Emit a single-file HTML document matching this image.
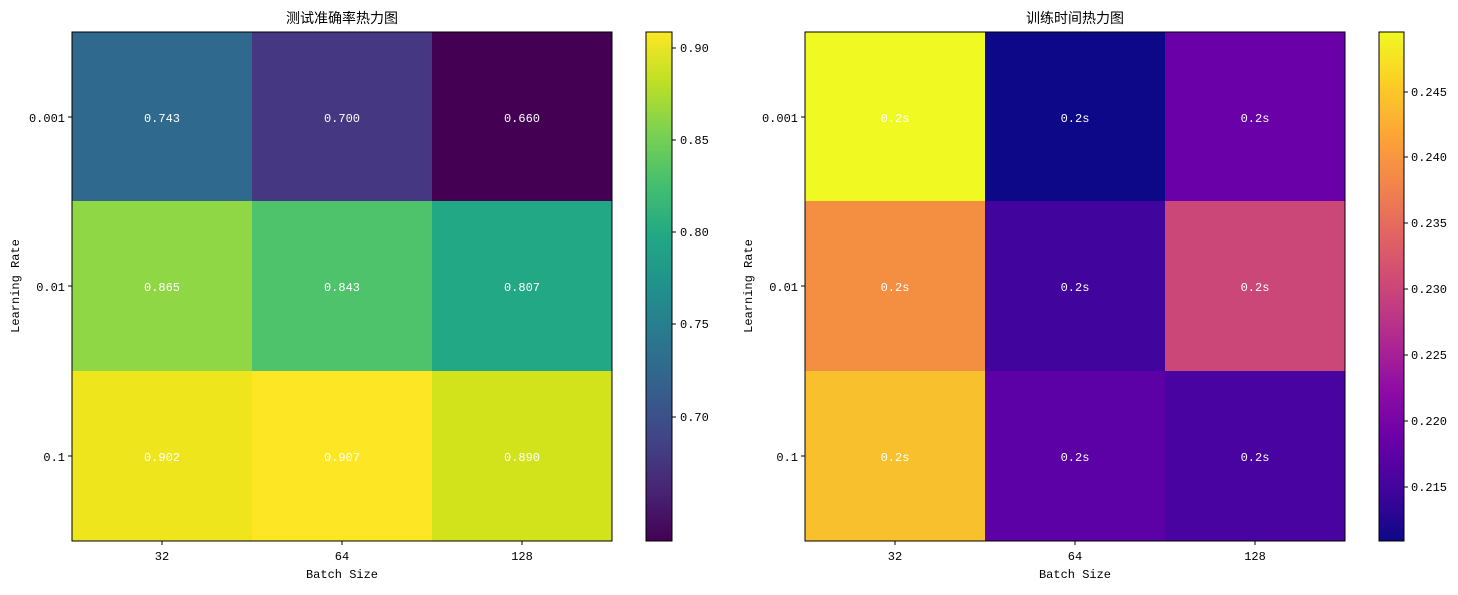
<!DOCTYPE html>
<html><head><meta charset="utf-8"><style>
body{margin:0;background:#fff;}
text{font-family:"Liberation Mono","Noto Sans CJK SC",monospace;}
.t{font-family:"Noto Sans CJK SC","WenQuanYi Zen Hei",sans-serif;}
</style></head><body>
<svg width="1458" height="590" xmlns="http://www.w3.org/2000/svg">
<defs>
<linearGradient id="vir" x1="0" y1="1" x2="0" y2="0">
<stop offset="0" stop-color="#440154"/><stop offset="0.1" stop-color="#482475"/><stop offset="0.2" stop-color="#414487"/><stop offset="0.3" stop-color="#355f8d"/><stop offset="0.4" stop-color="#2a788e"/><stop offset="0.5" stop-color="#21918c"/><stop offset="0.6" stop-color="#22a884"/><stop offset="0.7" stop-color="#44bf70"/><stop offset="0.8" stop-color="#7ad151"/><stop offset="0.9" stop-color="#bddf26"/><stop offset="1" stop-color="#fde725"/>
</linearGradient>
<linearGradient id="pla" x1="0" y1="1" x2="0" y2="0">
<stop offset="0" stop-color="#0d0887"/><stop offset="0.1" stop-color="#41049d"/><stop offset="0.2" stop-color="#6a00a8"/><stop offset="0.3" stop-color="#8f0da4"/><stop offset="0.4" stop-color="#b12a90"/><stop offset="0.5" stop-color="#cc4778"/><stop offset="0.6" stop-color="#e16462"/><stop offset="0.7" stop-color="#f2844b"/><stop offset="0.8" stop-color="#fca636"/><stop offset="0.9" stop-color="#fcce25"/><stop offset="1" stop-color="#f0f921"/>
</linearGradient>
</defs>
<!-- Left heatmap -->
<text class="t" x="342" y="23" font-size="14" text-anchor="middle">测试准确率热力图</text>
<rect x="72" y="32" width="180" height="169" fill="#30698e"/>
<rect x="252" y="32" width="180" height="169" fill="#453781"/>
<rect x="432" y="32" width="180" height="169" fill="#440154"/>
<rect x="72" y="201" width="180" height="170" fill="#8fd744"/>
<rect x="252" y="201" width="180" height="170" fill="#4ec36b"/>
<rect x="432" y="201" width="180" height="170" fill="#22a884"/>
<rect x="72" y="371" width="180" height="170" fill="#efe51c"/>
<rect x="252" y="371" width="180" height="170" fill="#fde725"/>
<rect x="432" y="371" width="180" height="170" fill="#d2e21b"/>
<rect x="72" y="32" width="540" height="509" fill="none" stroke="#000" stroke-width="1"/>
<g font-size="12" fill="#fff" text-anchor="middle">
<text x="162" y="122">0.743</text><text x="342" y="122">0.700</text><text x="522" y="122">0.660</text>
<text x="162" y="291">0.865</text><text x="342" y="291">0.843</text><text x="522" y="291">0.807</text>
<text x="162" y="461">0.902</text><text x="342" y="461">0.907</text><text x="522" y="461">0.890</text>
</g>
<g stroke="#000"><line x1="68" y1="117" x2="72" y2="117"/><line x1="68" y1="286" x2="72" y2="286"/><line x1="68" y1="456" x2="72" y2="456"/>
<line x1="162" y1="541" x2="162" y2="545"/><line x1="342" y1="541" x2="342" y2="545"/><line x1="522" y1="541" x2="522" y2="545"/></g>
<g font-size="12" text-anchor="end"><text x="65" y="122">0.001</text><text x="65" y="291">0.01</text><text x="65" y="461">0.1</text></g>
<g font-size="12" text-anchor="middle"><text x="162" y="560">32</text><text x="342" y="560">64</text><text x="522" y="560">128</text>
<text x="342" y="578">Batch Size</text>
<text transform="translate(19,286) rotate(-90)">Learning Rate</text></g>
<!-- colorbar 1 -->
<rect x="646" y="32" width="26" height="509" fill="url(#vir)" stroke="#000"/>
<g stroke="#000"><line x1="672" y1="48" x2="676" y2="48"/><line x1="672" y1="140" x2="676" y2="140"/><line x1="672" y1="232" x2="676" y2="232"/><line x1="672" y1="324" x2="676" y2="324"/><line x1="672" y1="417" x2="676" y2="417"/></g>
<g font-size="12"><text x="680" y="52">0.90</text><text x="680" y="144">0.85</text><text x="680" y="236">0.80</text><text x="680" y="328">0.75</text><text x="680" y="421">0.70</text></g>
<!-- Right heatmap -->
<text class="t" x="1075" y="23" font-size="14" text-anchor="middle">训练时间热力图</text>
<rect x="805" y="32" width="180" height="169" fill="#f0f921"/>
<rect x="985" y="32" width="180" height="169" fill="#0d0887"/>
<rect x="1165" y="32" width="180" height="169" fill="#6a00a8"/>
<rect x="805" y="201" width="180" height="170" fill="#f48f41"/>
<rect x="985" y="201" width="180" height="170" fill="#41049d"/>
<rect x="1165" y="201" width="180" height="170" fill="#cb4778"/>
<rect x="805" y="371" width="180" height="170" fill="#f8c02c"/>
<rect x="985" y="371" width="180" height="170" fill="#5c01a6"/>
<rect x="1165" y="371" width="180" height="170" fill="#4903a0"/>
<rect x="805" y="32" width="540" height="509" fill="none" stroke="#000" stroke-width="1"/>
<g font-size="12" fill="#fff" text-anchor="middle">
<text x="895" y="122">0.2s</text><text x="1075" y="122">0.2s</text><text x="1255" y="122">0.2s</text>
<text x="895" y="291">0.2s</text><text x="1075" y="291">0.2s</text><text x="1255" y="291">0.2s</text>
<text x="895" y="461">0.2s</text><text x="1075" y="461">0.2s</text><text x="1255" y="461">0.2s</text>
</g>
<g stroke="#000"><line x1="801" y1="117" x2="805" y2="117"/><line x1="801" y1="286" x2="805" y2="286"/><line x1="801" y1="456" x2="805" y2="456"/>
<line x1="895" y1="541" x2="895" y2="545"/><line x1="1075" y1="541" x2="1075" y2="545"/><line x1="1255" y1="541" x2="1255" y2="545"/></g>
<g font-size="12" text-anchor="end"><text x="798" y="122">0.001</text><text x="798" y="291">0.01</text><text x="798" y="461">0.1</text></g>
<g font-size="12" text-anchor="middle"><text x="895" y="560">32</text><text x="1075" y="560">64</text><text x="1255" y="560">128</text>
<text x="1075" y="578">Batch Size</text>
<text transform="translate(752,286) rotate(-90)">Learning Rate</text></g>
<!-- colorbar 2 -->
<rect x="1379" y="32" width="25" height="509" fill="url(#pla)" stroke="#000"/>
<g stroke="#000"><line x1="1404" y1="92" x2="1408" y2="92"/><line x1="1404" y1="157" x2="1408" y2="157"/><line x1="1404" y1="223" x2="1408" y2="223"/><line x1="1404" y1="289" x2="1408" y2="289"/><line x1="1404" y1="355" x2="1408" y2="355"/><line x1="1404" y1="421" x2="1408" y2="421"/><line x1="1404" y1="487" x2="1408" y2="487"/></g>
<g font-size="12"><text x="1411" y="96">0.245</text><text x="1411" y="161">0.240</text><text x="1411" y="227">0.235</text><text x="1411" y="293">0.230</text><text x="1411" y="359">0.225</text><text x="1411" y="425">0.220</text><text x="1411" y="491">0.215</text></g>
</svg>
</body></html>
